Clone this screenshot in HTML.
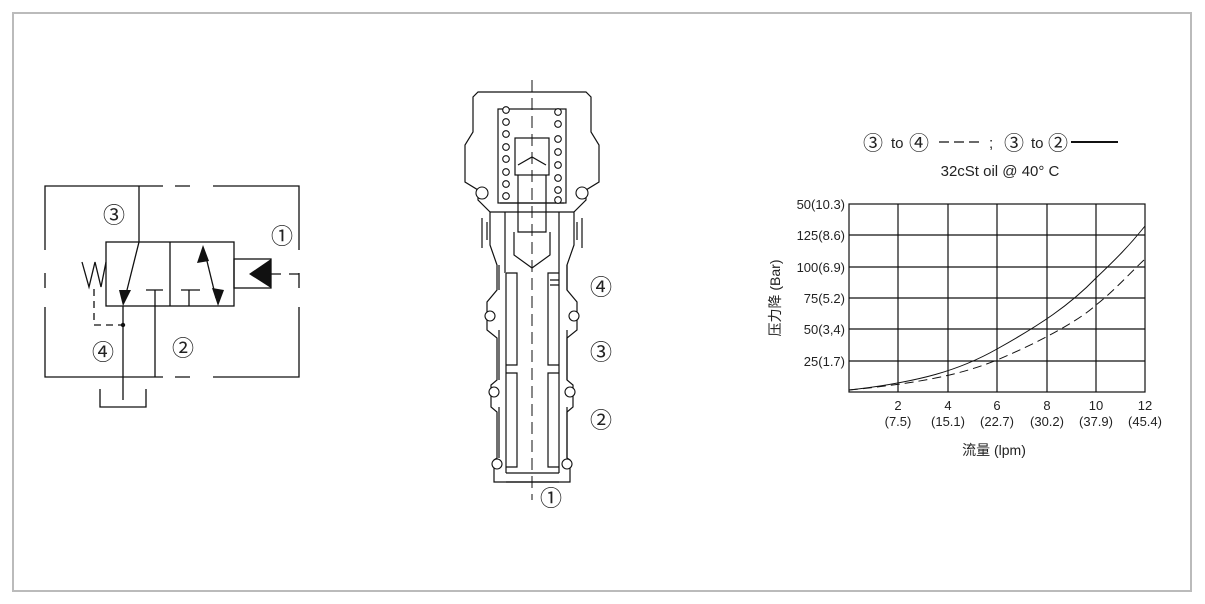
<!DOCTYPE html>
<html><head><meta charset="utf-8"><style>
html,body{margin:0;padding:0;background:#fff;}
body{width:1205px;height:604px;position:relative;overflow:hidden;font-family:"Liberation Sans","Noto Sans CJK SC",sans-serif;}
</style></head><body>
<svg width="1205" height="604" viewBox="0 0 1205 604" xmlns="http://www.w3.org/2000/svg" style="position:absolute;left:0;top:0">
<rect x="13" y="13" width="1178" height="578" fill="none" stroke="#bbb" stroke-width="2"/>
<g fill="none" stroke="#111" stroke-width="1.3">
<path d="M163 186 H45 V250 M45 273 V288 M45 307 V377 H163 M175 377 H190 M213 377 H299 V307 M299 288 V273 M299 250 V186 H213 M175 186 H190"/>
<rect x="106" y="242" width="128" height="64"/>
<line x1="170" y1="242" x2="170" y2="306"/>
<rect x="234" y="259" width="37" height="29"/>
<path d="M271 274 H281 M289 274 H299" />
<path d="M139 186 V242 L125 298"/>
<path d="M123 306 V400"/>
<path d="M100 389 V407 H146 V389"/>
<path d="M146 290 H163 M155 290 V377"/>
<path d="M181 290 H200 M189 290 V306"/>
<path d="M205 253 L216 298"/>
<path d="M82 262 L89 287 L95 262 L101 287 L106 262"/>
<path d="M94 289 V325 H123" stroke-dasharray="7 5"/>
</g>
<polygon points="119,290 131,290 123,306" fill="#111"/>
<polygon points="203,245 197,263 209,261" fill="#111"/>
<polygon points="218,306 212,288 224,290" fill="#111"/>
<polygon points="249,274 271,259 271,288" fill="#111"/>
<circle cx="123" cy="325" r="2.2" fill="#111"/>
<g font-size="22" fill="#222">
<text x="103" y="223">③</text><text x="271" y="244">①</text>
<text x="92" y="360">④</text><text x="172" y="356">②</text>
</g>

<g fill="none" stroke="#111" stroke-width="1.2">
<path d="M532 80 V500" stroke-dasharray="12 6" stroke-width="1"/>
<path d="M478 92 H586 L591 97 V132 L599 145 V182 L586 190 V200 L574 212 V245 L567 265 V290 L577 302 V330 L567 338 V380 L573 385 V407 L567 412 V458 L570 460 V482 H494 V460 L497 458 V412 L491 407 V385 L497 380 V338 L487 330 V302 L497 290 V265 L490 245 V212 L478 200 V190 L465 182 V145 L473 132 V97 Z"/>
<rect x="498" y="109" width="68" height="94"/>
<rect x="515" y="138" width="34" height="37"/>
<path d="M518 175 V232 H546 V175 M518 165 L532 157 L546 165"/>
<path d="M500 203 H564 M490 212 H574 M505 212 V273 M559 212 V273 M514 232 V255 L532 268 L550 255 V232"/>
<path d="M482 218 V248 M582 218 V248 M487 222 V240 M577 222 V240"/>
<path d="M506 273 V473 M559 273 V473 M506 473 H559 M506 482 H559"/>
<path d="M506 273 H517 V365 H506 M559 273 H548 V365 H559"/>
<path d="M506 373 H517 V467 H506 M559 373 H548 V467 H559"/>
<path d="M499 265 V290 M567 265 V290 M499 330 V380 M567 330 V380 M499 407 V458 M567 407 V458"/>
<path d="M550 280 H559 M550 285 H559"/>
</g>
<g fill="#fff" stroke="#111" stroke-width="1.1">
<circle cx="482" cy="193" r="6"/><circle cx="582" cy="193" r="6"/>
<circle cx="490" cy="316" r="5"/><circle cx="574" cy="316" r="5"/>
<circle cx="494" cy="392" r="5"/><circle cx="570" cy="392" r="5"/>
<circle cx="497" cy="464" r="5"/><circle cx="567" cy="464" r="5"/>
<circle cx="506" cy="110" r="3.3"/><circle cx="506" cy="122" r="3.3"/><circle cx="506" cy="134" r="3.3"/><circle cx="506" cy="147" r="3.3"/><circle cx="506" cy="159" r="3.3"/><circle cx="506" cy="172" r="3.3"/><circle cx="506" cy="184" r="3.3"/><circle cx="506" cy="196" r="3.3"/>
<circle cx="558" cy="112" r="3.3"/><circle cx="558" cy="124" r="3.3"/><circle cx="558" cy="139" r="3.3"/><circle cx="558" cy="152" r="3.3"/><circle cx="558" cy="165" r="3.3"/><circle cx="558" cy="178" r="3.3"/><circle cx="558" cy="190" r="3.3"/><circle cx="558" cy="200" r="3.3"/>
</g>
<g font-size="22" fill="#222">
<text x="590" y="295">④</text><text x="590" y="360">③</text>
<text x="590" y="428">②</text><text x="540" y="506">①</text>
</g>

<g stroke="#111" stroke-width="1.2" fill="none">
<rect x="849" y="204" width="296" height="188"/>
<path d="M849 235 H1145 M849 267 H1145 M849 298 H1145 M849 329 H1145 M849 361 H1145"/>
<path d="M898 204 V392 M948 204 V392 M997 204 V392 M1047 204 V392 M1096 204 V392"/>
<path d="M849 390 C920 383 960 375 997 360 C1040 342 1080 320 1096 305 C1115 290 1130 273 1145 259" stroke-dasharray="9 5" stroke-width="1"/>
<path d="M849 390 C920 382 960 370 997 349 C1040 325 1070 305 1096 278 C1115 260 1130 245 1145 226" stroke-width="1"/>
</g>
<g font-size="13" fill="#222" text-anchor="end">
<text x="845" y="209">50(10.3)</text><text x="845" y="240">125(8.6)</text>
<text x="845" y="272">100(6.9)</text><text x="845" y="303">75(5.2)</text>
<text x="845" y="334">50(3,4)</text><text x="845" y="366">25(1.7)</text>
</g>
<g font-size="13" fill="#222" text-anchor="middle">
<text x="898" y="410">2</text><text x="898" y="426">(7.5)</text>
<text x="948" y="410">4</text><text x="948" y="426">(15.1)</text>
<text x="997" y="410">6</text><text x="997" y="426">(22.7)</text>
<text x="1047" y="410">8</text><text x="1047" y="426">(30.2)</text>
<text x="1096" y="410">10</text><text x="1096" y="426">(37.9)</text>
<text x="1145" y="410">12</text><text x="1145" y="426">(45.4)</text>
<text x="994" y="455" font-size="14">流量 (lpm)</text>
<text x="0" y="0" font-size="14" transform="translate(780 298) rotate(-90)">压力降 (Bar)</text>
<text x="1000" y="176" font-size="15">32cSt oil @ 40°  C</text>
</g>
<g font-size="20" fill="#222">
<text x="863" y="150">③</text><text x="909" y="150">④</text>
<text x="1004" y="150">③</text><text x="1048" y="150">②</text>
</g>
<g font-size="15" fill="#222">
<text x="891" y="148">to</text><text x="989" y="148">;</text><text x="1031" y="148">to</text>
</g>
<line x1="939" y1="142" x2="979" y2="142" stroke="#111" stroke-width="1.2" stroke-dasharray="10 5"/>
<line x1="1071" y1="142" x2="1118" y2="142" stroke="#111" stroke-width="2"/>
</svg>
</body></html>
